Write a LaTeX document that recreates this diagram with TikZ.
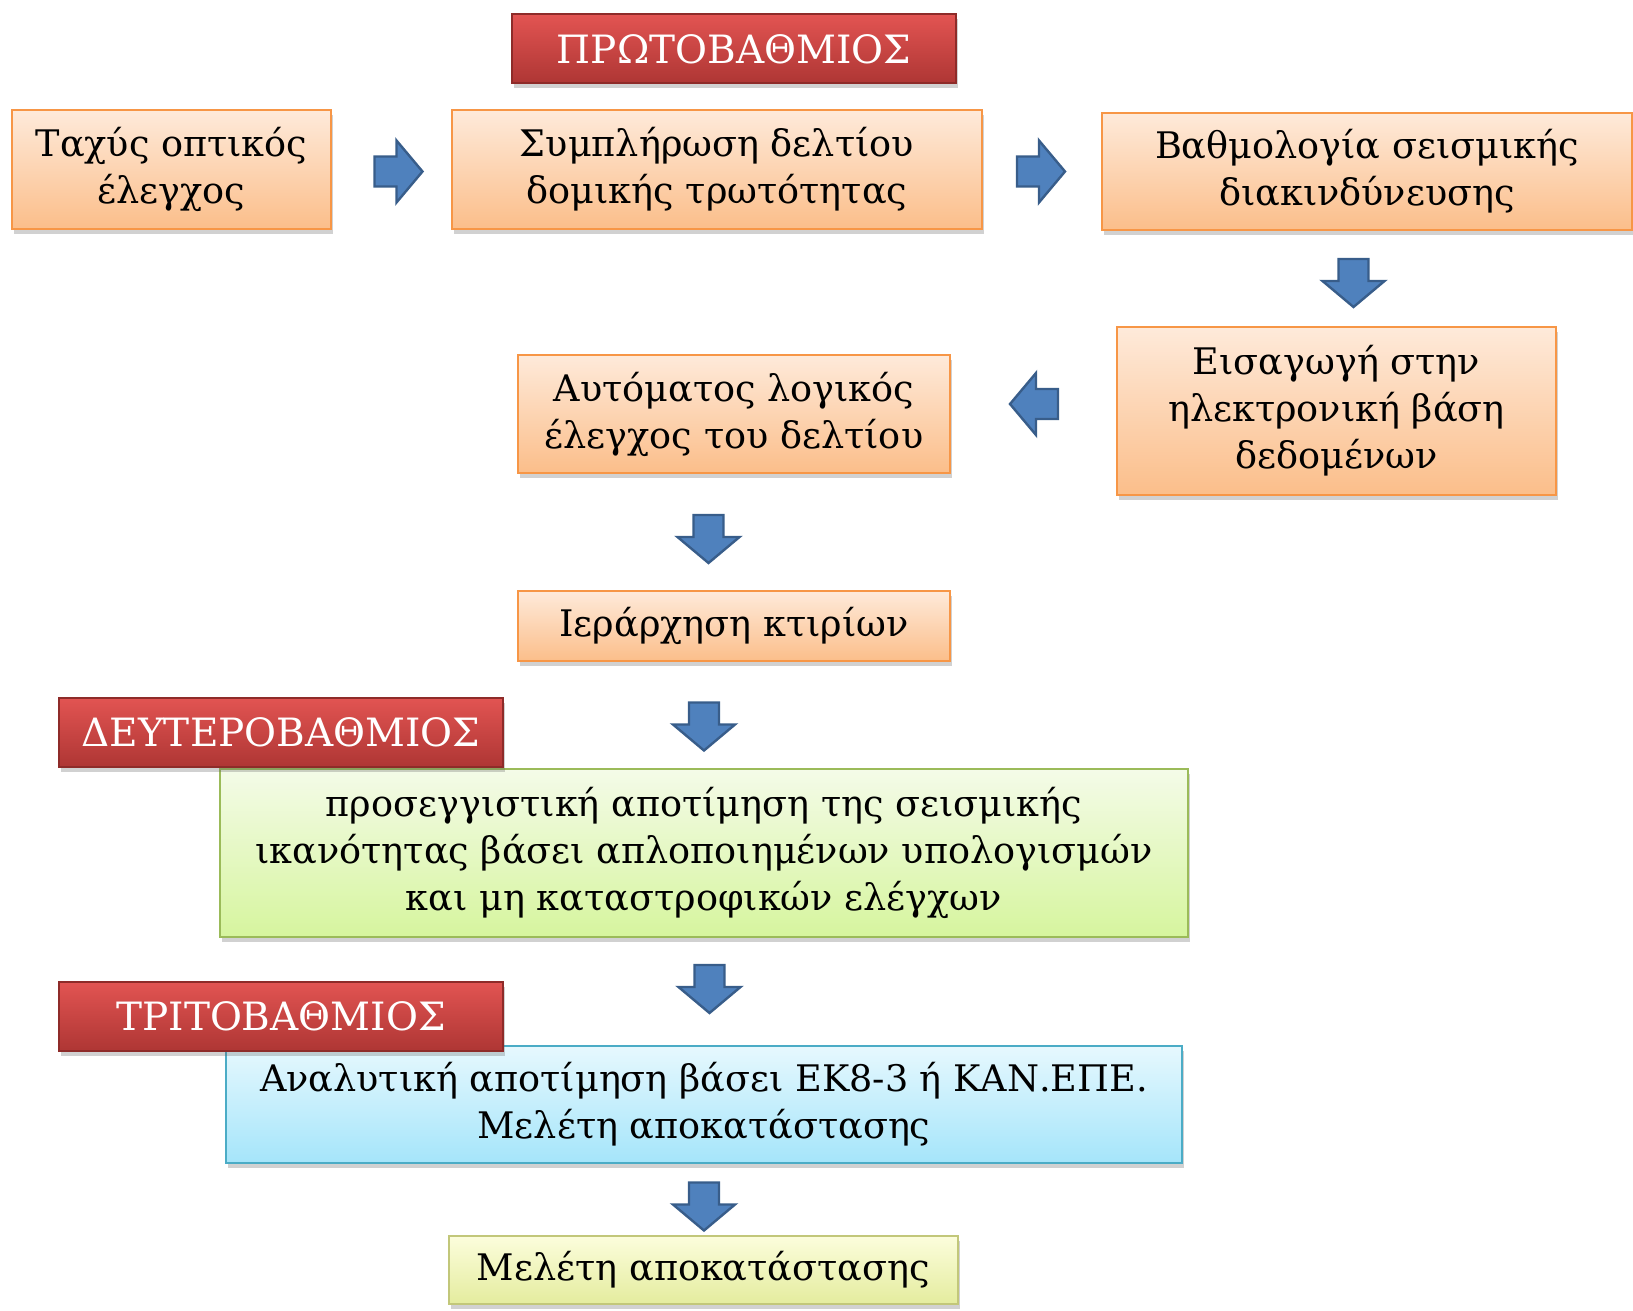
\documentclass[tikz,border=0pt]{standalone}
\usepackage{fontspec}
\setmainfont{DejaVu Serif}
\usepackage{tikz}
\usetikzlibrary{shadows}

\definecolor{orline}{HTML}{F79646}
\definecolor{ortop}{HTML}{FEEADA}
\definecolor{orbot}{HTML}{FBBE8A}
\definecolor{redline}{HTML}{8E2B29}
\definecolor{redtop}{HTML}{E25452}
\definecolor{redbot}{HTML}{AE3634}
\definecolor{grline}{HTML}{9BBB59}
\definecolor{grtop}{HTML}{F4FBE8}
\definecolor{grbot}{HTML}{D6F59E}
\definecolor{blline}{HTML}{4BACC6}
\definecolor{bltop}{HTML}{E6F8FE}
\definecolor{blbot}{HTML}{A5E5FA}
\definecolor{yeline}{HTML}{C2C77A}
\definecolor{yetop}{HTML}{FCFDDC}
\definecolor{yebot}{HTML}{E4EC9E}
\definecolor{arfill}{HTML}{4F81BD}
\definecolor{arline}{HTML}{385D8A}

\begin{document}
\begin{tikzpicture}[x=0.5pt,y=-0.5pt]
      \tikzset{
        base/.style={rectangle, line width=1pt, align=center, inner sep=0pt,
          font=\fontsize{18.3}{23.5}\selectfont,
          drop shadow={shadow xshift=0.8pt, shadow yshift=-2.5pt, opacity=0.3, fill=black!60}},
        stage/.style={base, draw=orline, top color=ortop, bottom color=orbot},
        level/.style={base, draw=redline, top color=redtop, bottom color=redbot,
          text=white, font=\fontsize{19.5}{23.5}\selectfont,
          minimum width=222pt, minimum height=34.5pt},
        approx/.style={base, draw=grline, top color=grtop, bottom color=grbot},
        exact/.style={base, draw=blline, top color=bltop, bottom color=blbot},
        final/.style={base, draw=yeline, top color=yetop, bottom color=yebot},
        barrow/.pic={
          \draw[fill=arfill, draw=arline, line width=1.2pt, line join=miter]
            (-24,-15) -- (-2,-15) -- (-2,-31) -- (24,0) -- (-2,31) -- (-2,15) -- (-24,15) -- cycle;
        },
      }
      \useasboundingbox (0,0) rectangle (1633,1311);

      \node [level] (prim) at (734,49) {ΠΡΩΤΟΒΑΘΜΙΟΣ};

      \node [stage, minimum width=159.5pt, minimum height=59.5pt] (visual) at (171.5,169.5) {Ταχύς οπτικός\\έλεγχος};
      \node [stage, minimum width=265pt, minimum height=59.5pt] (sheet) at (717,169.5) {Συμπλήρωση δελτίου\\δομικής τρωτότητας};
      \node [stage, minimum width=265pt, minimum height=58.5pt] (score) at (1367,171.5) {Βαθμολογία σεισμικής\\διακινδύνευσης};
      \node [stage, minimum width=219.5pt, minimum height=84pt] (entry) at (1336.5,411) {Εισαγωγή στην\\ηλεκτρονική βάση\\δεδομένων};
      \node [stage, minimum width=216pt, minimum height=59pt] (check) at (734,414) {Αυτόματος λογικός\\έλεγχος του δελτίου};
      \node [stage, minimum width=216pt, minimum height=35pt] (rank) at (734,626) {Ιεράρχηση κτιρίων};

      \node [approx, minimum width=484pt, minimum height=84pt] (second) at (704,853) {προσεγγιστική αποτίμηση της σεισμικής\\ικανότητας βάσει απλοποιημένων υπολογισμών\\και μη καταστροφικών ελέγχων};
      \node [exact, minimum width=478pt, minimum height=58.5pt] (third) at (704,1104.5) {Αναλυτική αποτίμηση βάσει ΕΚ8-3 ή ΚΑΝ.ΕΠΕ.\\Μελέτη αποκατάστασης};
      \node [final, minimum width=254.5pt, minimum height=34pt] (study) at (703.5,1270) {Μελέτη αποκατάστασης};

      \node [level] (sec) at (281,732.5) {ΔΕΥΤΕΡΟΒΑΘΜΙΟΣ};
      \node [level] (ter) at (281,1016.5) {ΤΡΙΤΟΒΑΘΜΙΟΣ};

      % block arrows between the stages
      \pic at (398.5,171.5) {barrow};
      \pic at (1041,171.5) {barrow};
      \pic[rotate=-90] at (1353.5,283) {barrow};
      \pic[rotate=180] at (1034,404) {barrow};
      \pic[rotate=-90] at (708.5,539) {barrow};
      \pic[rotate=-90] at (704,726.5) {barrow};
      \pic[rotate=-90] at (709.5,989) {barrow};
      \pic[rotate=-90] at (704,1206.5) {barrow};
\end{tikzpicture}
\end{document}
